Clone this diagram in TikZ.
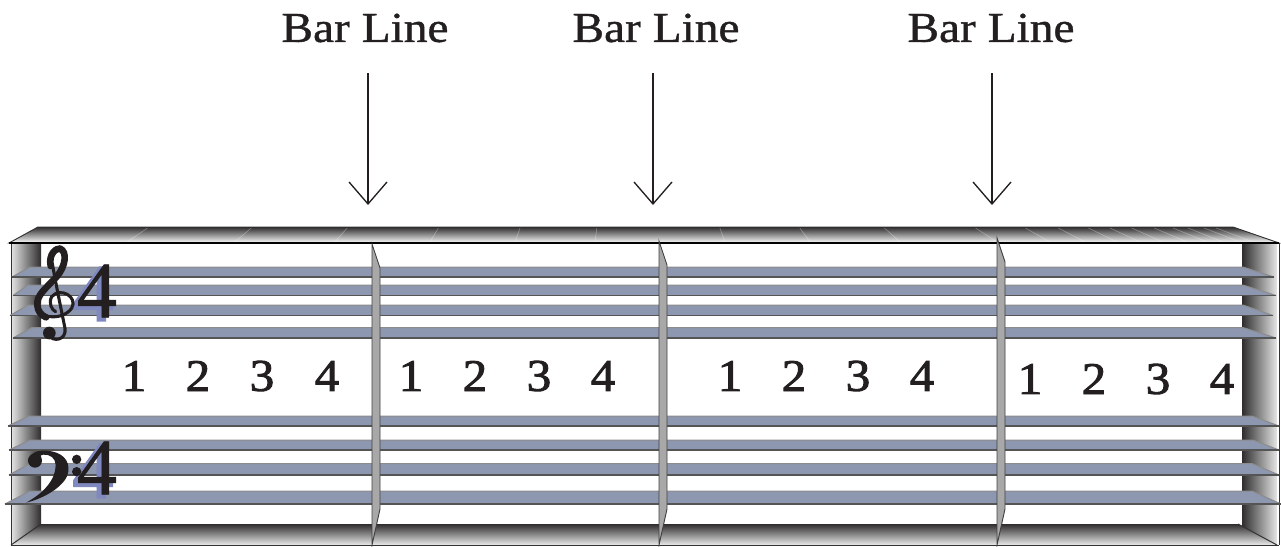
\documentclass[tikz,border=0pt]{standalone}
\usepackage{fontspec}
\setmainfont[FakeStretch=1.11,FakeBold=1]{Liberation Serif}
\newfontfamily\numfont[FakeStretch=1.08,FakeBold=2]{Liberation Serif}
\newfontfamily\sigfont[FakeBold=1]{Liberation Serif}
\newfontfamily\sigshadow[FakeBold=3.5]{Liberation Serif}
\usetikzlibrary{arrows.meta}
\definecolor{staffblue}{HTML}{8D97AF}
\definecolor{shadowblue}{HTML}{8088C0}
\definecolor{barfill}{HTML}{A8A8A8}
\definecolor{edgedark}{HTML}{555555}
\definecolor{wallDark}{HTML}{2F2D2D}
\definecolor{ink}{HTML}{231F20}
\tikzset{
 barlabel/.style={font=\fontsize{32}{36}\selectfont,text=ink,inner sep=0pt},
 beat/.style={font=\numfont\fontsize{34}{38}\selectfont,text=ink,inner sep=0pt},
 timesig/.style={font=\sigfont\fontsize{60}{60}\selectfont,text=ink,inner sep=0pt},
 sigback/.style={font=\sigshadow\fontsize{60}{60}\selectfont,text=shadowblue,inner sep=0pt},
 pointer/.style={-{Straight Barb[length=16.5pt,width=28.5pt]},line width=1pt,ink},
 divider/.style={fill=barfill,draw=black!75,line width=.7pt,line join=miter},
 clefthin/.style={draw=ink,line width=2.3pt,line cap=round},
 clefthick/.style={draw=ink,line width=5pt,line cap=round},
}
\newcommand{\staffline}[6]{% ytop ybottom lefttip leftstart rightstart righttip
 \fill[staffblue] (#3,#2)--(#4,#1)--(#5,#1)--(#6,#2)--cycle;
 \draw[black!45,line width=.75pt] (#3,#2)--(#4,#1)--(#5,#1)--(#6,#2);
 \draw[edgedark,line width=1pt] (#3,#2)--(#6,#2);
}
\newcommand{\barline}[2]{% x, top tip y
 \draw[divider] (#1,#2)--(#1+8,#2+24)--(#1+8,509)--(#1,545)--cycle;
}
\begin{document}
\begin{tikzpicture}[x=.75pt,y=-.75pt]
\useasboundingbox (0,0) rectangle (1281,546);
% room
\shade[top color=wallDark,bottom color=white] (9,243)--(38,227)--(1233,227)--(1279,243)--cycle;
\foreach \b in {127,235,335,430,515,595}{
 \draw[white,opacity=.3,line width=.5pt] (\b,242)--({640+(\b-640)*.96},228);}
\foreach \b in {725,810,900,997,1050,1085,1117,1140,1163,1187,1207,1223,1240,1253}{
 \draw[white,opacity=.3,line width=.5pt] (\b,242)--({640+(\b-640)*.94},228);}
\draw[black!80,line width=.7pt] (9,243)--(38,227)--(1233,227)--(1279,243)--cycle;
\shade[left color=white!90!black,right color=wallDark] (11,243) rectangle (41,545);
\shade[left color=wallDark,right color=white!90!black] (1242,243) rectangle (1277,545);
\shade[top color=wallDark,bottom color=white!92!black] (41,524)--(1238,524)--(1277,545)--(11,545)--cycle;
\draw[black!80,line width=.75pt] (11,243)--(11,545)--(1279,545);
\draw[black!80,line width=.75pt] (1279,243)--(1279,545);
\draw[black!80,line width=.75pt] (11,545)--(41,524);
\draw[black!80,line width=.75pt] (1277,545)--(1238,524);
\draw[black,line width=1pt] (9,243)--(1279,243);
% staves
\staffline{267}{277}{12}{30}{1243}{1274}
\staffline{285}{295.5}{13}{28}{1243}{1276}
\staffline{305}{315.5}{10}{28}{1243}{1273}
\staffline{327.5}{338}{13}{32}{1243}{1276}
\staffline{416}{426}{8}{29}{1252}{1279}
\staffline{440}{450}{9}{30}{1253}{1279}
\staffline{463.5}{475}{9}{30}{1252}{1279}
\staffline{491}{504}{5}{30}{1252}{1281}
% bar lines
\barline{372}{244}
\barline{659}{241}
\barline{997}{238}
% time signatures
\node[sigback] (sigA) at (93,294) {4};
\node[timesig] (sigB) at (97,291) {4};
\node[sigback] (sigC) at (93,471) {4};
\node[timesig] (sigD) at (97,468) {4};
% treble clef (no installed font has this symbol)
\begin{scope}[shift={(20,240)},x=.25pt,y=-.25pt]
 \draw[clefthin] (97,70) .. controls (105,120) and (125,215) .. (135,265)
   .. controls (140,300) and (100,308) .. (85,285);
 \fill[ink] (88,279) circle (19);
 \draw[clefthin] (47,195) .. controls (50,235) and (125,245) .. (155,205)
   .. controls (175,170) and (120,140) .. (95,170) .. controls (85,190) and (95,210) .. (107,215);
 \draw[clefthick] (92,78) .. controls (85,40) and (110,24) .. (120,26);
 \draw[clefthick] (120,26) .. controls (142,34) and (138,78) .. (110,110)
   .. controls (75,148) and (50,165) .. (52,195) .. controls (53,212) and (62,225) .. (78,232);
\end{scope}
% bass clef (no installed font has this symbol)
\begin{scope}[shift={(15,430)},x=.25pt,y=-.25pt]
 \fill[ink] (40,90) .. controls (45,68) and (70,60) .. (95,62)
   .. controls (140,65) and (165,90) .. (160,125)
   .. controls (155,165) and (90,205) .. (33,218)
   .. controls (85,190) and (122,150) .. (122,105)
   .. controls (122,85) and (105,72) .. (85,74)
   .. controls (72,76) and (65,82) .. (62,85) -- cycle;
 \fill[ink] (60,92) circle (21);
 \fill[ink] (185,88) circle (14);
 \fill[ink] (185,125) circle (14);
\end{scope}
% beats
\foreach \n/\x/\y/\t in {a1/134/376/1,a2/198/376/2,a3/262/376/3,a4/327/376/4,
  b1/411/376/1,b2/475/376/2,b3/539/376/3,b4/603/376/4,
  c1/730/376/1,c2/794/376/2,c3/858/376/3,c4/922/376/4,
  d1/1030/379/1,d2/1094/379/2,d3/1158/379/3,d4/1222/379/4}{
 \node[beat] (\n) at (\x,\y) {\t};
}
% labels and arrows
\node[barlabel] (l1) at (365,28) {Bar Line};
\node[barlabel] (l2) at (656,28) {Bar Line};
\node[barlabel] (l3) at (991,28) {Bar Line};
\coordinate (s1) at (368,73); \coordinate (e1) at (368,205);
\coordinate (s2) at (653,73); \coordinate (e2) at (653,205);
\coordinate (s3) at (992,73); \coordinate (e3) at (992,205);
\draw[pointer] (s1)--(e1);
\draw[pointer] (s2)--(e2);
\draw[pointer] (s3)--(e3);
\end{tikzpicture}
\end{document}
